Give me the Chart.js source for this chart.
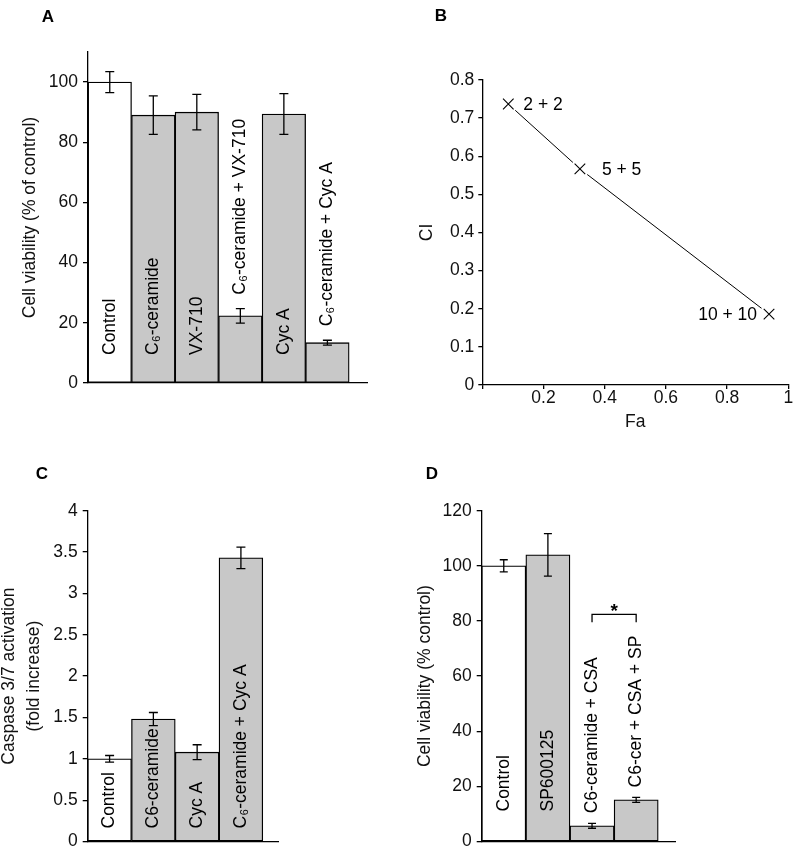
<!DOCTYPE html>
<html><head><meta charset="utf-8">
<script src="https://cdn.jsdelivr.net/npm/chart.js@4.4.0/dist/chart.umd.min.js"></script>
<style>
html,body{margin:0;padding:0;background:#fff;}
#wrap{position:relative;width:800px;height:857px;overflow:hidden;background:#fff;}
canvas{position:absolute;left:0;top:0;}
.lab{position:absolute;font:bold 17px 'Liberation Sans',Arial,sans-serif;color:#000;transform:translate(-50%,-50%);line-height:1;}
</style></head><body>
<div id="wrap">
<canvas id="cA" width="800" height="857"></canvas>
<canvas id="cB" width="800" height="857"></canvas>
<canvas id="cC" width="800" height="857"></canvas>
<canvas id="cD" width="800" height="857"></canvas>
<div class="lab" style="left:48px;top:16px">A</div>
<div class="lab" style="left:441px;top:15px">B</div>
<div class="lab" style="left:42px;top:473px">C</div>
<div class="lab" style="left:432px;top:473px">D</div>
</div>
<script>
// ---- Panel A data ----
const catA = ['Control', 'C\u2086-ceramide', 'VX-710', 'C\u2086-ceramide + VX-710', 'Cyc A', 'C\u2086-ceramide + Cyc A'];
const valA = [100, 89, 90, 22.3, 89.4, 13.4];
const errA = [3.5, 6.4, 5.9, 2.4, 6.8, 0.8];
const ticksA = [0, 20, 40, 60, 80, 100];

// ---- Panel B data ----
const faB = [0.085, 0.319, 0.937];
const ciB = [0.737, 0.567, 0.186];
const labB = ['2 + 2', '5 + 5', '10 + 10'];
const ticksBx = [0, 0.2, 0.4, 0.6, 0.8, 1];
const ticksBy = [0, 0.1, 0.2, 0.3, 0.4, 0.5, 0.6, 0.7, 0.8];

// ---- Panel C data ----
const catC = ['Control', 'C6-ceramide', 'Cyc A', 'C\u2086-ceramide + Cyc A'];
const valC = [1.0, 1.48, 1.08, 3.43];
const errC = [0.04, 0.08, 0.09, 0.13];
const ticksC = [0, 0.5, 1, 1.5, 2, 2.5, 3, 3.5, 4];

// ---- Panel D data ----
const catD = ['Control', 'SP600125', 'C6-ceramide + CSA', 'C6-cer + CSA + SP'];
const valD = [100, 104, 5.7, 15.1];
const errD = [2.2, 7.7, 0.9, 0.9];
const ticksD = [0, 20, 40, 60, 80, 100, 120];
const sigPairD = [2, 3];
const sigLevelD = 82.4;
const sigTextD = '*';

const FONT = "'Liberation Sans', Arial, sans-serif";
Chart.defaults.font.family = FONT;
Chart.defaults.font.size = 17.5;
Chart.defaults.color = '#111';

const fmt = v => String(+(+v).toFixed(2));

function errPlugin(errors, cap) {
  return { id: 'errbars', afterDatasetsDraw(chart) {
    const ctx = chart.ctx, meta = chart.getDatasetMeta(0), ys = chart.scales.y;
    const data = chart.data.datasets[0].data;
    ctx.save(); ctx.strokeStyle = '#000'; ctx.lineWidth = 1.3;
    meta.data.forEach((el, i) => {
      const t = ys.getPixelForValue(data[i].y + errors[i]);
      const b = ys.getPixelForValue(data[i].y - errors[i]);
      const x = el.x;
      ctx.beginPath();
      ctx.moveTo(x, t); ctx.lineTo(x, b);
      ctx.moveTo(x - cap, t); ctx.lineTo(x + cap, t);
      ctx.moveTo(x - cap, b); ctx.lineTo(x + cap, b);
      ctx.stroke();
    });
    ctx.restore();
  }};
}

function labelPlugin(labels, errors, insidePad, gap) {
  return { id: 'barlabels', afterDatasetsDraw(chart) {
    const ctx = chart.ctx, meta = chart.getDatasetMeta(0), ys = chart.scales.y;
    const data = chart.data.datasets[0].data;
    const zero = ys.getPixelForValue(0);
    ctx.save(); ctx.fillStyle = '#000'; ctx.font = '17.5px ' + FONT;
    ctx.textAlign = 'left'; ctx.textBaseline = 'middle';
    meta.data.forEach((el, i) => {
      const w = ctx.measureText(labels[i]).width;
      const barTop = ys.getPixelForValue(data[i].y);
      const errTop = ys.getPixelForValue(data[i].y + errors[i]);
      const fits = (zero - insidePad - w) >= barTop;
      const y0 = fits ? zero - insidePad : errTop - gap;
      ctx.save(); ctx.translate(el.x, y0); ctx.rotate(-Math.PI / 2);
      ctx.fillText(labels[i], 0, 0); ctx.restore();
    });
    ctx.restore();
  }};
}

function barChart(id, cats, vals, errs, cfg) {
  const data = vals.map((v, i) => ({ x: i + 0.5, y: v }));
  const plugins = [errPlugin(errs, cfg.cap), labelPlugin(cats, errs, cfg.insidePad, cfg.gap)];
  if (cfg.extra) plugins.push(cfg.extra);
  return new Chart(document.getElementById(id), {
    type: 'bar',
    data: { datasets: [{
      data,
      backgroundColor: vals.map((v, i) => i === 0 ? '#ffffff' : '#c8c8c8'),
      borderColor: '#000', borderWidth: 1.3, borderSkipped: false,
      barPercentage: 1, categoryPercentage: 1
    }]},
    options: {
      responsive: false, animation: false, events: [],
      layout: { padding: cfg.padding },
      plugins: { legend: { display: false }, tooltip: { enabled: false } },
      scales: {
        x: { type: 'linear', min: 0, max: cfg.xMax, offset: false,
          grid: { display: false, offset: false }, ticks: { display: false },
          border: { display: true, color: '#000', width: 1.3 },
          afterFit(s) { s.height = cfg.xH; } },
        y: { type: 'linear', min: 0, max: cfg.yMax,
          afterBuildTicks(s) { s.ticks = cfg.ticks.map(v => ({ value: v })); },
          grid: { display: true, drawOnChartArea: false, drawTicks: true, tickLength: 5, color: '#000', lineWidth: 1.3 },
          border: { display: true, color: '#000', width: 1.3 },
          ticks: { padding: 5, color: '#111', font: { size: 17.5 }, callback: fmt },
          title: { display: true, text: cfg.title, color: '#111',
            font: { size: 17.5, lineHeight: cfg.titleLH || 1.2 },
            padding: { top: cfg.titlePad, bottom: 0 } },
          afterFit(s) { s.width = cfg.yW; } }
      }
    },
    plugins
  });
}

// Panel A
barChart('cA', catA, valA, errA, {
  padding: { left: 0, top: 52, right: 433, bottom: 434 }, xH: 40, yW: 88,
  xMax: 6.41, yMax: 110, ticks: ticksA, cap: 4.5, insidePad: 28, gap: 14,
  title: 'Cell viability (% of control)', titlePad: 19.5
});

// Panel C
barChart('cC', catC, valC, errC, {
  padding: { left: 0, top: 510.7, right: 521, bottom: 5.3 }, xH: 10, yW: 87.7,
  xMax: 4.37, yMax: 4, ticks: ticksC, cap: 4.5, insidePad: 13, gap: 12,
  title: ['Caspase 3/7 activation', '(fold increase)'], titleLH: 1.45, titlePad: -3.7
});

// Panel D
const sigPlugin = { id: 'sig', afterDatasetsDraw(chart) {
  const ctx = chart.ctx, meta = chart.getDatasetMeta(0), ys = chart.scales.y;
  const x1 = meta.data[sigPairD[0]].x, x2 = meta.data[sigPairD[1]].x;
  const y = ys.getPixelForValue(sigLevelD);
  ctx.save(); ctx.strokeStyle = '#000'; ctx.lineWidth = 1.3;
  ctx.beginPath();
  ctx.moveTo(x1, y + 8); ctx.lineTo(x1, y); ctx.lineTo(x2, y); ctx.lineTo(x2, y + 8);
  ctx.stroke();
  ctx.fillStyle = '#000'; ctx.font = 'bold 19px ' + FONT;
  ctx.textAlign = 'center'; ctx.textBaseline = 'alphabetic';
  ctx.fillText(sigTextD, (x1 + x2) / 2, y + 2.5);
  ctx.restore();
}};
barChart('cD', catD, valD, errD, {
  padding: { left: 400, top: 510.7, right: 125, bottom: 5.3 }, xH: 10, yW: 81.7,
  xMax: 4.38, yMax: 120, ticks: ticksD, cap: 4, insidePad: 30, gap: 10,
  title: 'Cell viability (% control)', titlePad: 14.5, extra: sigPlugin
});

// Panel B
const ptsB = faB.map((f, i) => ({ x: f, y: ciB[i] }));
const labOffB = [15, 22, -12];
const labAlignB = ['left', 'left', 'right'];
const pointLabelPlugin = { id: 'ptlabels', afterDatasetsDraw(chart) {
  const ctx = chart.ctx, xs = chart.scales.x, ys = chart.scales.y;
  ctx.save(); ctx.fillStyle = '#000'; ctx.font = '17.5px ' + FONT; ctx.textBaseline = 'middle';
  ptsB.forEach((p, i) => {
    ctx.textAlign = labAlignB[i];
    ctx.fillText(labB[i], xs.getPixelForValue(p.x) + labOffB[i], ys.getPixelForValue(p.y) + 1.5);
  });
  ctx.restore();
}};
new Chart(document.getElementById('cB'), {
  type: 'scatter',
  data: { datasets: [
    { data: ptsB, showLine: true, borderColor: '#000', borderWidth: 1, pointRadius: 0, order: 3 },
    { data: ptsB, showLine: false, pointRadius: 9.5, pointBackgroundColor: '#fff', pointBorderColor: '#fff', pointBorderWidth: 0, order: 2 },
    { data: ptsB, showLine: false, pointStyle: 'crossRot', pointRadius: 7.5, pointBorderColor: '#000', pointBorderWidth: 1.1, order: 1 }
  ]},
  options: {
    responsive: false, animation: false, events: [],
    layout: { padding: { left: 400, top: 80, right: 11.7, bottom: 424 } },
    plugins: { legend: { display: false }, tooltip: { enabled: false } },
    scales: {
      x: { type: 'linear', min: 0, max: 1,
        afterBuildTicks(s) { s.ticks = ticksBx.map(v => ({ value: v })); },
        grid: { display: true, drawOnChartArea: false, drawTicks: true, tickLength: 4, color: '#000', lineWidth: 1.3 },
        border: { display: true, color: '#000', width: 1.3 },
        ticks: { padding: 0, color: '#111', font: { size: 17.5, lineHeight: 1 }, maxRotation: 0, callback: v => v === 0 ? '' : fmt(v) },
        title: { display: true, text: 'Fa', color: '#111', font: { size: 17.5, lineHeight: 1.2 }, padding: { top: 0, bottom: 0.5 } },
        afterFit(s) { s.height = 48; } },
      y: { type: 'linear', min: 0, max: 0.8,
        afterBuildTicks(s) { s.ticks = ticksBy.map(v => ({ value: v })); },
        grid: { display: true, drawOnChartArea: false, drawTicks: true, tickLength: 4, color: '#000', lineWidth: 1.3 },
        border: { display: true, color: '#000', width: 1.3 },
        ticks: { padding: 4, color: '#111', font: { size: 17.5 }, callback: fmt },
        title: { display: true, text: 'CI', color: '#111', font: { size: 17.5, lineHeight: 1.2 }, padding: { top: 16.5, bottom: 0 } },
        afterFit(s) { s.width = 82.3; } }
    }
  },
  plugins: [pointLabelPlugin]
});
</script>
</body></html>
